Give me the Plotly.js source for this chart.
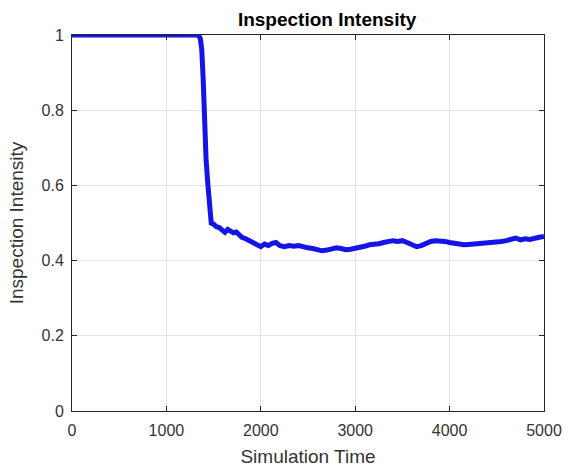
<!DOCTYPE html>
<html><head><meta charset="utf-8">
<script src="https://cdn.plot.ly/plotly-3.0.1.min.js"></script>
<style>html,body{margin:0;padding:0;background:#fff}#chart{width:569px;height:470px}</style>
</head><body><div id="chart"></div>
<script>
var simTime = [0,200,400,600,800,1000,1200,1300,1340,1360,1375,1390,1405,1420,1440,1460,1475,
  1500,1530,1560,1590,1620,1650,1680,1710,1740,1770,1800,1840,1880,1920,1960,2000,2040,2080,2120,2160,2200,
  2250,2300,2350,2400,2450,2500,2550,2600,2650,2700,2750,2800,2850,2900,2950,3000,3050,3100,3150,3200,
  3250,3300,3350,3400,3450,3500,3550,3600,3650,3700,3750,3800,3850,3900,3950,4000,4050,4100,4150,4200,
  4250,4300,4350,4400,4450,4500,4550,4600,4650,4700,4750,4800,4850,4900,4950,5000];
var intensity = [1,1,1,1,1,1,1,1,1,0.99,0.96,0.88,0.75,0.67,0.60,0.53,0.50,
  0.497,0.49,0.488,0.48,0.475,0.483,0.478,0.474,0.476,0.468,0.462,0.458,0.452,0.446,0.44,0.437,0.444,0.44,0.446,0.448,0.44,
  0.437,0.44,0.438,0.44,0.436,0.434,0.432,0.43,0.426,0.428,0.431,0.434,0.432,0.429,0.43,0.432,0.436,0.438,0.442,0.442,
  0.445,0.448,0.452,0.453,0.451,0.453,0.448,0.442,0.437,0.44,0.446,0.451,0.453,0.453,0.451,0.448,0.445,0.442,0.442,0.443,
  0.444,0.443,0.445,0.446,0.447,0.448,0.451,0.453,0.456,0.46,0.455,0.458,0.456,0.46,0.462,0.464];
var xTicks = [0,1000,2000,3000,4000,5000];
var yTicks = [0,0.2,0.4,0.6,0.8,1];

var FONT = 'Liberation Sans, Arial, sans-serif';
var axisCommon = {
  showline:true, linecolor:'#262626', linewidth:1, mirror:'ticks',
  ticks:'inside', ticklen:5, tickcolor:'#262626',
  showgrid:true, gridcolor:'#e3e3e3', gridwidth:1, zeroline:false,
  tickfont:{family:FONT, size:16, color:'#333'}
};
var layout = {
  width:569, height:470,
  margin:{l:72, r:25, t:35, b:59},
  paper_bgcolor:'#fff', plot_bgcolor:'#fff',
  showlegend:false,
  title:{text:'<b>Inspection Intensity</b>', x:0.5405, xref:'paper', xanchor:'center', y:1-19/470, yref:'container', yanchor:'middle',
    font:{family:FONT, size:19, color:'#000'}},
  xaxis:Object.assign({}, axisCommon, {range:[0,5000], tickvals:xTicks, ticktext:xTicks.map(String), ticklabelstandoff:5,
    title:{text:'Simulation Time', standoff:11, font:{family:FONT, size:19, color:'#333'}}}),
  yaxis:Object.assign({}, axisCommon, {range:[0,1], tickvals:yTicks, ticktext:yTicks.map(String), ticklabelstandoff:4,
    title:{text:'Inspection Intensity', standoff:12, font:{family:FONT, size:19, color:'#333'}}})
};
var trace = {x:simTime, y:intensity, type:'scatter', mode:'lines',
  line:{color:'#1414e6', width:5}};
Plotly.newPlot('chart', [trace], layout, {displayModeBar:false, staticPlot:true});
</script></body></html>
